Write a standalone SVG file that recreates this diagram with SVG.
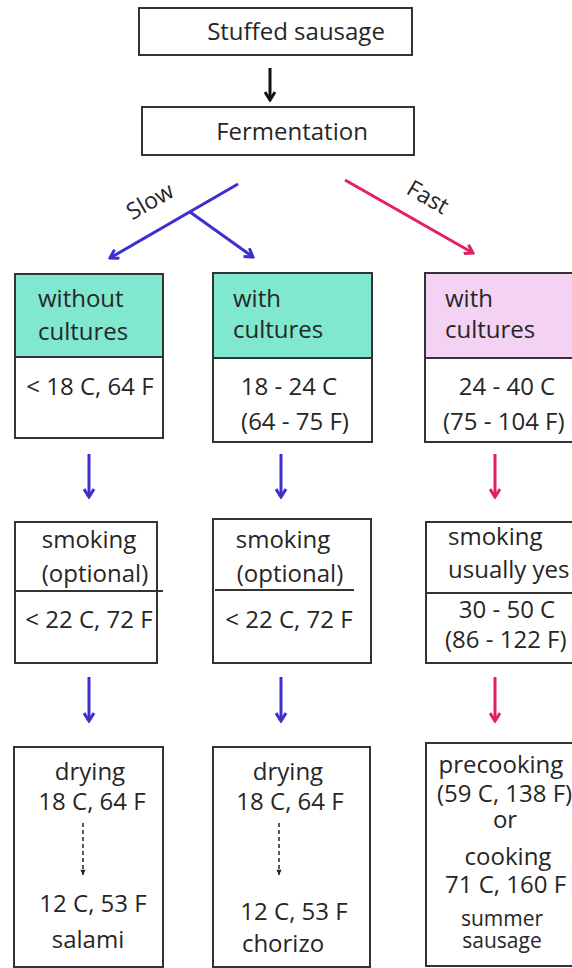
<svg xmlns="http://www.w3.org/2000/svg" width="572" height="968" viewBox="0 0 572 968">
<style>
text{font-family:"Open Sans","Noto Sans","Liberation Sans",sans-serif;font-size:24px;fill:#262626}
.box{fill:#fff;stroke:#333;stroke-width:2}
.teal{fill:#80e8cf}
.pink{fill:#f3d2f3}
.div{stroke:#333;stroke-width:2}
.m{text-anchor:middle}
.blue{stroke:#3b2fd0;stroke-width:3;fill:none}
.red{stroke:#e3215a;stroke-width:3;fill:none}
.blk{stroke:#111;stroke-width:3;fill:none}
.dash{stroke:#222;stroke-width:1.5;stroke-dasharray:4 3;fill:none}
.lab{font-size:23px}
.sm{font-size:21px}
</style>
<defs>
<marker id="hb" viewBox="0 0 12 12" refX="10" refY="6" markerWidth="12" markerHeight="12" markerUnits="userSpaceOnUse" orient="auto"><path d="M2,1 L10,6 L2,11" fill="none" stroke="#3b2fd0" stroke-width="3"/></marker>
<marker id="hr" viewBox="0 0 12 12" refX="10" refY="6" markerWidth="12" markerHeight="12" markerUnits="userSpaceOnUse" orient="auto"><path d="M2,1 L10,6 L2,11" fill="none" stroke="#e3215a" stroke-width="3"/></marker>
<marker id="hk" viewBox="0 0 12 12" refX="10" refY="6" markerWidth="12" markerHeight="12" markerUnits="userSpaceOnUse" orient="auto"><path d="M2,1 L10,6 L2,11" fill="none" stroke="#111" stroke-width="3"/></marker>
<marker id="hd" viewBox="0 0 8 8" refX="7" refY="4" markerWidth="7" markerHeight="7" markerUnits="userSpaceOnUse" orient="auto"><path d="M1,1 L7,4 L1,7 Z" fill="#222"/></marker>
</defs>

<g id="stuffed">
<rect class="box" x="139" y="8" width="273" height="47"/>
<text x="296" y="40" class="m">Stuffed sausage</text>
</g>
<g id="fermentation">
<rect class="box" x="142" y="107" width="272" height="48"/>
<text x="292" y="140" class="m">Fermentation</text>
</g>

<g id="slow-without">
<rect class="box" x="15" y="274" width="148" height="164"/>
<rect class="teal" x="16" y="275" width="146" height="82"/>
<line class="div" x1="15" y1="357" x2="163" y2="357"/>
<text x="38" y="307">without</text>
<text x="38" y="340">cultures</text>
<text x="90" y="395" class="m">&lt; 18 C, 64 F</text>
</g>
<g id="slow-with">
<rect class="box" x="213" y="273" width="159" height="169"/>
<rect class="teal" x="214" y="274" width="157" height="84"/>
<line class="div" x1="213" y1="358" x2="372" y2="358"/>
<text x="233" y="307">with</text>
<text x="233" y="338">cultures</text>
<text x="289" y="395" class="m">18 - 24 C</text>
<text x="295" y="430" class="m">(64 - 75 F)</text>
</g>
<g id="fast-with">
<rect class="box" x="425" y="273" width="160" height="169"/>
<rect class="pink" x="426" y="274" width="158" height="84"/>
<line class="div" x1="425" y1="358" x2="585" y2="358"/>
<text x="445" y="307">with</text>
<text x="445" y="338">cultures</text>
<text x="507" y="395" class="m">24 - 40 C</text>
<text x="443" y="430">(75 - 104 F)</text>
</g>

<g id="smoke1">
<rect class="box" x="15" y="522" width="142" height="141"/>
<line class="div" x1="15" y1="591" x2="163" y2="591"/>
<text x="89" y="548" class="m">smoking</text>
<text x="95" y="582" class="m">(optional)</text>
<text x="89" y="628" class="m">&lt; 22 C, 72 F</text>
</g>
<g id="smoke2">
<rect class="box" x="213" y="519" width="158" height="144"/>
<line class="div" x1="215" y1="590" x2="354" y2="590"/>
<text x="283" y="548" class="m">smoking</text>
<text x="290" y="582" class="m">(optional)</text>
<text x="289" y="628" class="m">&lt; 22 C, 72 F</text>
</g>
<g id="smoke3">
<rect class="box" x="426" y="522" width="160" height="141"/>
<line class="div" x1="426" y1="593" x2="586" y2="593"/>
<text x="448" y="545">smoking</text>
<text x="448" y="578">usually yes</text>
<text x="507" y="618" class="m">30 - 50 C</text>
<text x="445" y="648">(86 - 122 F)</text>
</g>

<g id="salami">
<rect class="box" x="14" y="747" width="149" height="220"/>
<text x="90" y="780" class="m">drying</text>
<text x="92" y="810" class="m">18 C, 64 F</text>
<line class="dash" x1="83" y1="823" x2="83" y2="875" marker-end="url(#hd)"/>
<text x="93" y="912" class="m">12 C, 53 F</text>
<text x="88" y="948" class="m">salami</text>
</g>
<g id="chorizo">
<rect class="box" x="213" y="747" width="157" height="220"/>
<text x="288" y="780" class="m">drying</text>
<text x="290" y="810" class="m">18 C, 64 F</text>
<line class="dash" x1="279" y1="823" x2="279" y2="875" marker-end="url(#hd)"/>
<text x="294" y="920" class="m">12 C, 53 F</text>
<text x="283" y="952" class="m">chorizo</text>
</g>
<g id="summer">
<rect class="box" x="426" y="743" width="160" height="223"/>
<text x="501" y="773" class="m">precooking</text>
<text x="437" y="802">(59 C, 138 F)</text>
<text x="505" y="828" class="m">or</text>
<text x="508" y="865" class="m">cooking</text>
<text x="445" y="893">71 C, 160 F</text>
<text x="502" y="926" class="m sm">summer</text>
<text x="502" y="948" class="m sm">sausage</text>
</g>

<g id="connectors">
<line class="blk" x1="270" y1="68" x2="270" y2="100" marker-end="url(#hk)"/>
<line class="blue" x1="238" y1="184" x2="110" y2="258" marker-end="url(#hb)"/>
<line class="blue" x1="190" y1="212" x2="253" y2="257" marker-end="url(#hb)"/>
<text x="154" y="208" class="m lab" transform="rotate(-30 154 208)">Slow</text>
<line class="red" x1="345" y1="180" x2="473" y2="253" marker-end="url(#hr)"/>
<text x="424" y="204" class="m lab" transform="rotate(30 424 204)">Fast</text>
<line class="blue" x1="89" y1="454" x2="89" y2="497" marker-end="url(#hb)"/>
<line class="blue" x1="281" y1="454" x2="281" y2="497" marker-end="url(#hb)"/>
<line class="red" x1="495" y1="454" x2="495" y2="497" marker-end="url(#hr)"/>
<line class="blue" x1="89" y1="677" x2="89" y2="721" marker-end="url(#hb)"/>
<line class="blue" x1="281" y1="677" x2="281" y2="721" marker-end="url(#hb)"/>
<line class="red" x1="495" y1="677" x2="495" y2="721" marker-end="url(#hr)"/>
</g>
</svg>
